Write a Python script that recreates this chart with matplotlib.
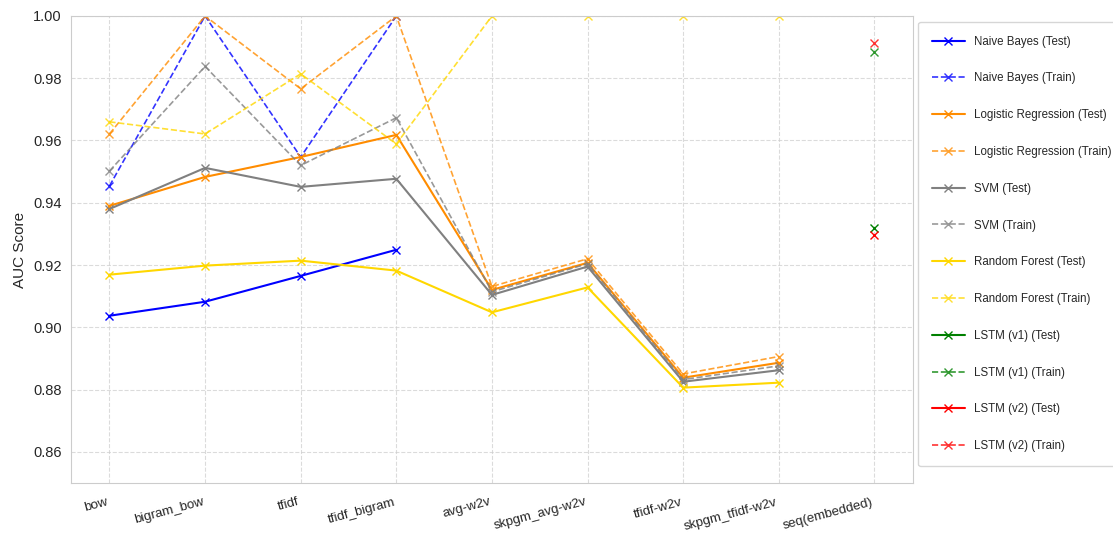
import numpy as np
import matplotlib
matplotlib.use("Agg")
import matplotlib.pyplot as plt
import seaborn as sns

nan = np.nan

FEATURES = ["bow", "bigram_bow", "tfidf", "tfidf_bigram", "avg-w2v",
            "skpgm_avg-w2v", "tfidf-w2v", "skpgm_tfidf-w2v", "seq(embedded)"]

nb_test = [0.9037, 0.9082, 0.9165, 0.9249, nan, nan, nan, nan, nan]
nb_train = [0.9454, 1.0, 0.9547, 1.0, nan, nan, nan, nan, nan]
lr_test = [0.9390, 0.9483, 0.9547, 0.9618, 0.9120, 0.9207, 0.8838, 0.8886, nan]
lr_train = [0.9621, 1.0, 0.9766, 1.0, 0.9131, 0.9220, 0.8850, 0.8906, nan]
svm_test = [0.9380, 0.9512, 0.9451, 0.9477, 0.9104, 0.9195, 0.8825, 0.8862, nan]
svm_train = [0.9502, 0.9838, 0.9520, 0.9673, 0.9114, 0.9204, 0.8832, 0.8876, nan]
rf_test = [0.9169, 0.9198, 0.9214, 0.9182, 0.9048, 0.9128, 0.8806, 0.8822, nan]
rf_train = [0.9660, 0.9621, 0.9814, 0.9589, 1.0, 1.0, 1.0, 1.0, nan]
lstm1_test = [nan] * 8 + [0.9318]
lstm1_train = [nan] * 8 + [0.9885]
lstm2_test = [nan] * 8 + [0.9297]
lstm2_train = [nan] * 8 + [0.9912]

MODELS = [
    ("Naive Bayes", "blue", nb_test, nb_train),
    ("Logistic Regression", "darkorange", lr_test, lr_train),
    ("SVM", "gray", svm_test, svm_train),
    ("Random Forest", "gold", rf_test, rf_train),
    ("LSTM (v1)", "green", lstm1_test, lstm1_train),
    ("LSTM (v2)", "red", lstm2_test, lstm2_train),
]

sns.set_style("whitegrid", {"grid.linestyle": "--"})
plt.rcParams["font.family"] = ["Liberation Sans", "DejaVu Sans"]

fig, ax = plt.subplots(figsize=(11.13, 5.33), dpi=100)
fig.subplots_adjust(left=0.064, right=0.820, top=0.970, bottom=0.094)

x = np.arange(len(FEATURES))
for name, color, test, train in MODELS:
    ax.plot(x, test, color=color, marker="x", linestyle="-", linewidth=1.5,
            markersize=6, label=f"{name} (Test)")
    ax.plot(x, train, color=color, marker="x", linestyle="--", linewidth=1.2,
            markersize=6, alpha=0.8, label=f"{name} (Train)")

ax.set_xticks(x)
ax.set_xticklabels(FEATURES, rotation=15, ha="right", fontsize=9.5)
ax.tick_params(axis="x", pad=6)
ax.set_ylim(0.85, 1.0)
ax.set_yticks(np.arange(0.86, 1.001, 0.02))
ax.tick_params(axis="y", labelsize=10.5)
ax.set_ylabel("AUC Score", fontsize=11)
ax.grid(True, linestyle="--", alpha=0.7)

ax.legend(loc="upper left", bbox_to_anchor=(1.0, 1.0), fontsize=8.3,
          labelspacing=2.15, handlelength=2.8, handletextpad=0.85,
          borderpad=1.2, frameon=True)

fig.savefig("out.png", dpi=100)
